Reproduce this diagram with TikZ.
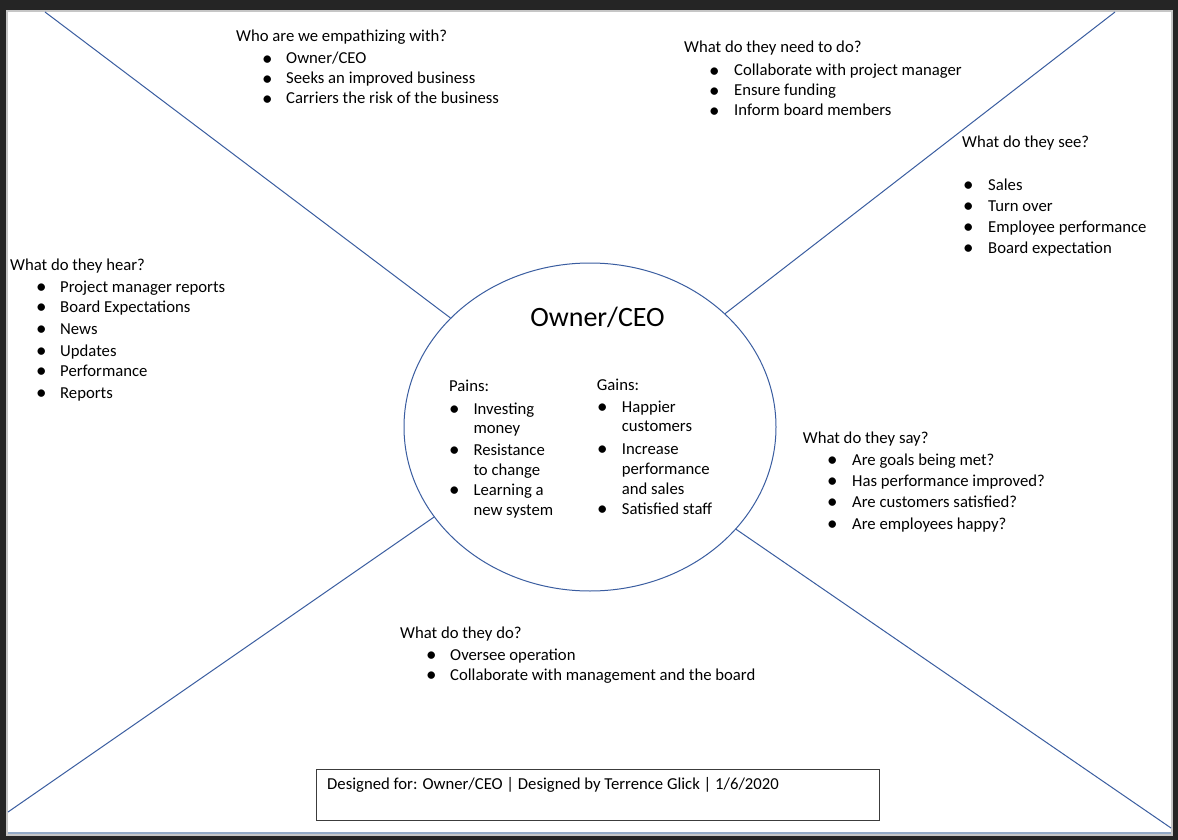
\documentclass[tikz,border=0pt]{standalone}
\usepackage{fontspec}
\setmainfont{Carlito}
\usetikzlibrary{shapes.geometric}

\definecolor{frame}{HTML}{252525}
\definecolor{pageedge}{HTML}{C6C6C6}
\definecolor{shelf}{HTML}{93A9C6}
\definecolor{mapline}{HTML}{3A5DA0}
\definecolor{boxline}{HTML}{3C3C3C}

\tikzset{
  txt/.style={anchor=base west, inner sep=0pt, font=\fontsize{16.7}{20}\selectfont},
  dot/.style={anchor=base west, inner sep=0pt, font=\fontsize{21}{24}\selectfont, yshift=-1.3pt},
  quad/.style={draw=mapline, line width=1pt},
  persona/.style={ellipse, draw=mapline, line width=1pt, inner sep=0pt,
                  minimum width=372pt, minimum height=328pt},
}

% bullet point: name, bullet x, text x, baseline y, text
\newcommand\bitem[5]{%
  \node[dot] (#1-b) at (#2,#4) {•};
  \node[txt] (#1) at (#3,#4) {#5};}
% continuation line of a wrapped bullet point: name, text x, baseline y, text
\newcommand\citem[4]{\node[txt] (#1) at (#2,#3) {#4};}

\begin{document}
\begin{tikzpicture}[x=1pt,y=-1pt]
  % window and page
  \fill[frame] (0,0) rectangle (1178,840);
  \path[use as bounding box] (0,0) rectangle (1178,840);
  \fill[pageedge] (6,10) rectangle (1173,836);
  \fill[white] (8,12) rectangle (1171,832);
  \fill[shelf] (8,832) rectangle (1171,834);

  % central persona
  \node[persona] (persona) at (590,427) {};
  \node[anchor=base, inner sep=0pt, font=\fontsize{28}{32}\selectfont]
       (title) at (597.5,326) {Owner/CEO};

  % quadrant dividers
  \coordinate (ul) at (45,12);
  \coordinate (ur) at (1115,12);
  \coordinate (ll) at (8,812);
  \coordinate (lr) at (1171,828);
  \draw[quad] (ul) -- (persona.142.8);
  \draw[quad] (ur) -- (persona.40.2);
  \draw[quad] (ll) -- (persona.210.1);
  \draw[quad] (lr) -- (persona.325.8);

  % who
  \node[txt] (who) at (236,42) {Who are we empathizing with?};
  \bitem{who1}{262}{286}{64}{Owner/CEO}
  \bitem{who2}{262}{286}{84}{Seeks an improved business}
  \bitem{who3}{262}{286}{104}{Carriers the risk of the business}

  % need to do
  \node[txt] (need) at (684,53) {What do they need to do?};
  \bitem{need1}{709}{734}{76}{Collaborate with project manager}
  \bitem{need2}{709}{734}{96}{Ensure funding}
  \bitem{need3}{709}{734}{116}{Inform board members}

  % see
  \node[txt] (see) at (962,148) {What do they see?};
  \bitem{see1}{963}{988}{190}{Sales}
  \bitem{see2}{963}{988}{211.5}{Turn over}
  \bitem{see3}{963}{988}{232}{Employee performance}
  \bitem{see4}{963}{988}{253}{Board expectation}

  % hear
  \node[txt] (hear) at (10,270.5) {What do they hear?};
  \bitem{hear1}{36}{60}{292.5}{Project manager reports}
  \bitem{hear2}{36}{60}{312.5}{Board Expectations}
  \bitem{hear3}{36}{60}{334}{News}
  \bitem{hear4}{36}{60}{356}{Updates}
  \bitem{hear5}{36}{60}{376}{Performance}
  \bitem{hear6}{36}{60}{398}{Reports}

  % pains
  \node[txt] (pains) at (449,391.5) {Pains:};
  \bitem{pain1}{449}{473.3}{414}{Investing}
  \citem{pain1c}{473.3}{433}{money}
  \bitem{pain2}{449}{473.3}{455.5}{Resistance}
  \citem{pain2c}{473.3}{475.5}{to change}
  \bitem{pain3}{449}{473.3}{495.5}{Learning a}
  \citem{pain3c}{473.3}{515.5}{new system}

  % gains
  \node[txt] (gains) at (596.7,390) {Gains:};
  \bitem{gain1}{597}{621.7}{412}{Happier}
  \citem{gain1c}{621.7}{431.5}{customers}
  \bitem{gain2}{597}{621.7}{454}{Increase}
  \citem{gain2c}{621.7}{474}{performance}
  \citem{gain2d}{621.7}{494}{and sales}
  \bitem{gain3}{597}{621.7}{514}{Satisfied staff}

  % say
  \node[txt] (say) at (802.7,443) {What do they say?};
  \bitem{say1}{827}{852}{465.5}{Are goals being met?}
  \bitem{say2}{827}{852}{486.5}{Has performance improved?}
  \bitem{say3}{827}{852}{507.5}{Are customers satisfied?}
  \bitem{say4}{827}{852}{529}{Are employees happy?}

  % do
  \node[txt] (do) at (400,638) {What do they do?};
  \bitem{do1}{426}{450}{660}{Oversee operation}
  \bitem{do2}{426}{450}{680}{Collaborate with management and the board}

  % footer
  \node[draw=boxline, line width=1pt, anchor=north west, inner sep=0pt,
        minimum width=563pt, minimum height=51pt] (footer) at (316,769) {};
  \node[txt] (credit) at (327,789)
       {Designed for: Owner/CEO | Designed by Terrence Glick | 1/6/2020};
\end{tikzpicture}
\end{document}
